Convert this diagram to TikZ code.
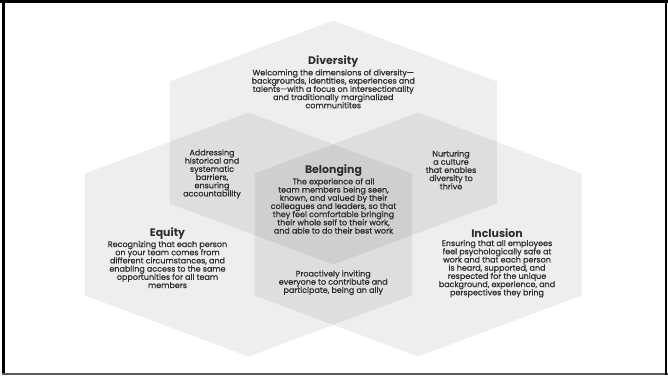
\documentclass[tikz,border=0pt]{standalone}
\usepackage{fontspec}
\setmainfont{Poppins}
\newfontfamily\bodyfont{Poppins}[FakeBold=0.8]

\definecolor{inktext}{RGB}{45,45,45}
\definecolor{framegray}{RGB}{90,90,90}

\tikzset{every picture/.style={line width=0.75pt}}
\tikzset{
	hexfill/.style={fill=black, fill opacity=0.065},
	titletext/.style={text=inktext, font={\fontsize{8.2}{9}\selectfont\bfseries}},
	bodytext/.style={text=inktext, align=center, inner sep=0pt, font={\bodyfont\fontsize{6}{6.15}\selectfont\lineskiplimit=-6pt}}}

\begin{document}
\begin{tikzpicture}[x=0.75pt,y=0.75pt,yscale=-1,xscale=1]
	\useasboundingbox (0,0) rectangle (668,376);

	%Frame [id:frame]
	\fill [black] (0,0) rectangle (668,2.5) ;
	\fill [black] (2,0) rectangle (4.5,374.5) ;
	\fill [framegray] (2,372.5) rectangle (668,374.5) ;
	\fill [black] (665,0) rectangle (666.5,374.5) ;

	%Shape: Hexagon [id:hexdiversity] 
	\fill [hexfill] (333.25,20.5) -- (497,81.5) -- (497,203.5) -- (333.25,264.5) -- (169.5,203.5) -- (169.5,81.5) -- cycle ;
	%Shape: Hexagon [id:hexequity] 
	\fill [hexfill] (248.5,112.5) -- (412,173.5) -- (412,295.5) -- (248.5,356.5) -- (85,295.5) -- (85,173.5) -- cycle ;
	%Shape: Hexagon [id:hexinclusion] 
	\fill [hexfill] (418,112.5) -- (581.5,173.5) -- (581.5,295.5) -- (418,356.5) -- (254.5,295.5) -- (254.5,173.5) -- cycle ;

	% Text Node
	\draw (333.25,62) node [titletext] (divtitle) {Diversity};
	% Text Node
	\draw (333.25,88.8) node [bodytext] (divbody) {Welcoming the dimensions of diversity—\\backgrounds, identities, experiences and\\talents—with a focus on intersectionality\\and traditionally marginalized\\communitites};
	% Text Node
	\draw (212,173.9) node [bodytext] (eqdiv) {Addressing\\historical and\\systematic\\barriers,\\ensuring\\accountability};
	% Text Node
	\draw (451,169.9) node [bodytext] (incdiv) {Nurturing\\a culture\\that enables\\diversity to\\thrive};
	% Text Node
	\draw (333.5,171) node [titletext] (beltitle) {Belonging};
	% Text Node
	\draw (333.5,205.9) node [bodytext] (belbody) {The experience of all\\team members being seen,\\known, and valued by their\\colleagues and leaders, so that\\they feel comfortable bringing\\their whole self to their work,\\and able to do their best work};
	% Text Node
	\draw (167.5,233.3) node [titletext] (eqtitle) {Equity};
	% Text Node
	\draw (167.5,264.5) node [bodytext] (eqbody) {Recognizing that each person\\on your team comes from\\different circumstances, and\\enabling access to the same\\opportunities for all team\\members};
	% Text Node
	\draw (497,233.3) node [titletext] (inctitle) {Inclusion};
	% Text Node
	\draw (497,268.7) node [bodytext] (incbody) {Ensuring that all employees\\feel psychologically safe at\\work and that each person\\is heard, supported, and\\respected for the unique\\background, experience, and\\perspectives they bring};
	% Text Node
	\draw (333.25,282.7) node [bodytext] (eqinc) {Proactively inviting\\everyone to contribute and\\participate, being an ally};

\end{tikzpicture}
\end{document}
